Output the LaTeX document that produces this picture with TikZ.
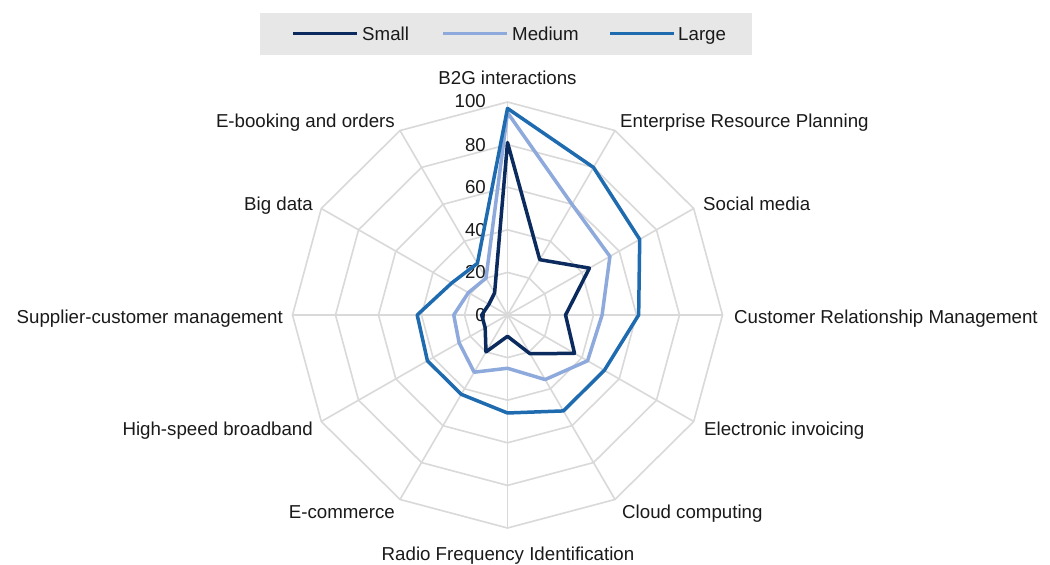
\documentclass[tikz,border=0pt]{standalone}
\usepackage{fontspec}
\setmainfont{Liberation Sans}
\definecolor{smallc}{HTML}{0B2A5E}
\definecolor{medc}{HTML}{8EA9DB}
\definecolor{largec}{HTML}{1F6BB0}
\definecolor{gridc}{HTML}{D9D9D9}
\definecolor{legbg}{HTML}{E7E7E7}
\definecolor{txt}{HTML}{1A1A1A}
\begin{document}
\begin{tikzpicture}[x=1pt,y=-1pt,
  font=\fontsize{18.7}{21}\selectfont,
  lab/.style={inner sep=0pt, text=txt},
  gridline/.style={draw=gridc, line width=1.6pt},
  series/.style={line width=3.5pt, line join=round},
  legline/.style={line width=3pt}]
\useasboundingbox (0,0) rectangle (1050,565);
\fill[white] (0,0) rectangle (1050,565);
% legend
\node[fill=legbg, minimum width=492pt, minimum height=42pt, inner sep=0pt] (legend) at (506,34) {};
\coordinate (s1) at (293,33.5); \coordinate (s2) at (357,33.5);
\coordinate (m1) at (443,33.5); \coordinate (m2) at (507,33.5);
\coordinate (l1) at (610,33.5); \coordinate (l2) at (674,33.5);
\draw[legline, smallc] (s1) -- (s2);
\draw[legline, medc] (m1) -- (m2);
\draw[legline, largec] (l1) -- (l2);
\node[lab, anchor=base west] (ls) at (362,40) {Small};
\node[lab, anchor=base west] (lm) at (512,40) {Medium};
\node[lab, anchor=base west] (ll) at (678,40) {Large};
% grid
\begin{scope}[shift={(507.5pt,-315pt)}, x=2.15pt, y=2.13pt]
  \foreach \r in {20,40,60,80,100}
    \draw[gridline] (90:\r) \foreach \i in {1,...,11}{ -- ({90-30*\i}:\r)} -- cycle;
  \foreach \i in {0,...,11}
    \draw[gridline] (0,0) -- ({90-30*\i}:100);
\end{scope}
% ring labels
\node[lab, anchor=east] (r0) at (486,315) {0};
\node[lab, anchor=east] (r20) at (486,272.4) {20};
\node[lab, anchor=east] (r40) at (486,229.8) {40};
\node[lab, anchor=east] (r60) at (486,187.2) {60};
\node[lab, anchor=east] (r80) at (486,144.6) {80};
\node[lab, anchor=east] (r100) at (486,101) {100};
% series
\begin{scope}[shift={(507.5pt,-315pt)}, x=2.15pt, y=2.13pt]
  \draw[series, smallc] (90:81) -- (60:30) -- (30:44) -- (0:27) -- (-30:36) -- (-60:21)
     -- (-90:10) -- (-120:20) -- (-150:12) -- (180:12) -- (150:10) -- (120:12) -- cycle;
  \draw[series, medc] (90:95) -- (60:60) -- (30:55) -- (0:44) -- (-30:43) -- (-60:35)
     -- (-90:25) -- (-120:31) -- (-150:26) -- (180:25) -- (150:21) -- (120:20) -- cycle;
  \draw[series, largec] (90:97) -- (60:80) -- (30:71) -- (0:61) -- (-30:52) -- (-60:52)
     -- (-90:46) -- (-120:43) -- (-150:43) -- (180:42) -- (150:30) -- (120:28) -- cycle;
\end{scope}
% axis labels
\node[lab, anchor=base] (a0) at (507.5,84) {B2G interactions};
\node[lab, anchor=base west] (a1) at (620,127.5) {Enterprise Resource Planning};
\node[lab, anchor=base west] (a2) at (703,210) {Social media};
\node[lab, anchor=base west] (a3) at (734,323) {Customer Relationship Management};
\node[lab, anchor=base west] (a4) at (704,435) {Electronic invoicing};
\node[lab, anchor=base west] (a5) at (622,518) {Cloud computing};
\node[lab, anchor=base] (a6) at (508,560.5) {Radio Frequency Identification};
\node[lab, anchor=base east] (a7) at (395,518) {E-commerce};
\node[lab, anchor=base east] (a8) at (313,435) {High-speed broadband};
\node[lab, anchor=base east] (a9) at (283,323) {Supplier-customer management};
\node[lab, anchor=base east] (a10) at (313,210) {Big data};
\node[lab, anchor=base east] (a11) at (395,127.5) {E-booking and orders};
\end{tikzpicture}
\end{document}
